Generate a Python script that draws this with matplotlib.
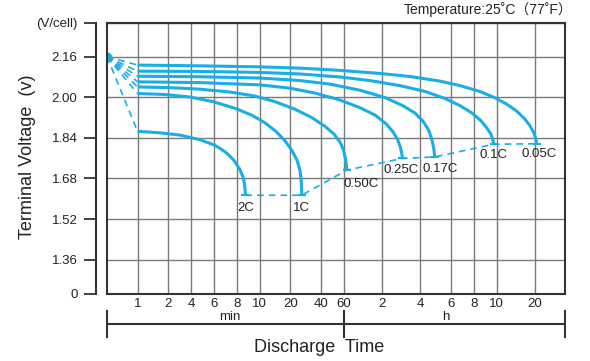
import numpy as np
import matplotlib
matplotlib.use("Agg")
import matplotlib.pyplot as plt

plt.rcParams['font.family'] = ['Liberation Sans', 'Noto Sans CJK SC', 'DejaVu Sans']

# time axis ticks (minutes) and labels
tick_t = [1, 2, 4, 6, 8, 10, 20, 40, 60, 120, 240, 360, 480, 600, 1200]
tick_lbl = ['1', '2', '4', '6', '8', '10', '20', '40', '60', '2', '4', '6', '8', '10', '20']

# voltage axis ticks
volt_ticks = [0, 1.36, 1.52, 1.68, 1.84, 2.00, 2.16]
volt_lbl = ['0', '1.36', '1.52', '1.68', '1.84', '2.00', '2.16']

# rest point before discharge
rest_t, rest_v = 0.5, 2.16

# discharge curves: time in minutes, volts per cell
rates = ['2C', '1C', '0.50C', '0.25C', '0.17C', '0.1C', '0.05C']

t_2c = [1, 1.664, 2.87, 4.68, 6.08, 6.97, 7.71, 8.23, 8.52, 8.64, 8.70]
v_2c = [1.866, 1.860, 1.851, 1.833, 1.811, 1.783, 1.752, 1.716, 1.683, 1.652, 1.614]

t_1c = [1, 1.864, 3.88, 5.89, 7.80, 9.23, 11.2, 14.4, 17.7, 20.7, 23.3, 24.9, 25.6, 25.8, 25.9]
v_1c = [2.015, 2.011, 2.001, 1.983, 1.957, 1.930, 1.900, 1.866, 1.829, 1.791, 1.752, 1.712, 1.673, 1.641, 1.614]

t_05c = [1, 2.12, 4.68, 7.30, 9.52, 14.08, 22.2, 32.6, 42.9, 50.5, 56.2, 59.7, 61.9, 63.0, 63.3]
v_05c = [2.041, 2.038, 2.032, 2.021, 2.005, 1.983, 1.953, 1.920, 1.886, 1.855, 1.823, 1.792, 1.756, 1.732, 1.713]

t_025c = [1, 4.68, 10, 19.8, 34.9, 56.2, 80.5, 105.7, 129.0, 146.6, 158.8, 167.6, 172.4, 173.3]
v_025c = [2.061, 2.058, 2.049, 2.036, 2.017, 1.989, 1.959, 1.930, 1.896, 1.864, 1.835, 1.803, 1.775, 1.759]

t_017c = [1, 4.68, 10, 24.86, 46.9, 80.5, 126.7, 175.3, 218.3, 249.0, 268.9, 281.0, 288.1, 291.0]
v_017c = [2.083, 2.081, 2.076, 2.066, 2.052, 2.028, 1.999, 1.967, 1.938, 1.906, 1.870, 1.831, 1.795, 1.765]

t_01c = [1, 4.68, 10, 24.86, 56.2, 96.5, 166.2, 256, 334.6, 404.7, 470.5, 515, 545, 568, 578, 584]
v_01c = [2.103, 2.102, 2.098, 2.092, 2.080, 2.066, 2.046, 2.023, 1.995, 1.967, 1.938, 1.908, 1.880, 1.855, 1.835, 1.815]

t_005c = [1, 4.68, 10, 24.86, 56.2, 115.8, 199.4, 311, 404.7, 510, 588, 722, 868, 1004, 1099, 1183, 1226, 1242]
v_005c = [2.127, 2.124, 2.120, 2.115, 2.106, 2.094, 2.082, 2.064, 2.046, 2.023, 1.999, 1.973, 1.945, 1.914, 1.888, 1.859, 1.835, 1.817]

curves_t = [t_2c, t_1c, t_05c, t_025c, t_017c, t_01c, t_005c]
curves_v = [v_2c, v_1c, v_05c, v_025c, v_017c, v_01c, v_005c]

# label offsets from curve end (points)
lbl_dx = [0, 0, 10, -1, 4, 0, 2]
lbl_dy = [-9, -9, -10, -8, -9, -7.5, -7.5]

blue = '#19aee6'
dark = '#333333'

# uneven time axis, as on the printed chart
edge_t = [0.5] + tick_t + [2100]
edge_u = [0, 4, 8, 11, 14, 17, 20, 24, 28, 31, 36, 41, 45, 48, 51, 56, 60]
log_t = np.log(edge_t)


def fwd_x(t):
    t = np.clip(np.asarray(t, float), 1e-6, None)
    return np.interp(np.log(t), log_t, edge_u)


def inv_x(u):
    return np.exp(np.interp(u, edge_u, log_t))


# broken voltage axis between 0 and 1.36
y_real = [0, 1.36, 3.0]
y_draw = [1.226, 1.36, 3.0]


def fwd_y(v):
    return np.interp(v, y_real, y_draw)


def inv_y(u):
    return np.interp(u, y_draw, y_real)


fig = plt.figure(figsize=(5.9, 3.61), dpi=100)
ax = fig.add_axes([107 / 590, 1 - 293.7 / 361, 458.3 / 590, 271 / 361])
ax.set_xscale('function', functions=(fwd_x, inv_x))
ax.set_yscale('function', functions=(fwd_y, inv_y))

for t, v in zip(curves_t, curves_v):
    ax.plot(t, v, color=blue, lw=2.2, solid_capstyle='butt',
            solid_joinstyle='round', zorder=4)
    ax.plot([rest_t, t[0]], [rest_v, v[0]], color=blue, lw=1.2,
            dashes=(4, 3), zorder=3)
    ax.plot([t[-1]], [v[-1]], marker='_', ms=6, mew=1.5, color=blue, zorder=4)

ends_t = [t[-1] for t in curves_t]
ends_v = [v[-1] for v in curves_v]
ax.plot(ends_t, ends_v, color=blue, lw=1.2, dashes=(4, 3), zorder=3)
ax.plot([rest_t], [rest_v], marker='o', ms=6, color=blue, zorder=5)

for i, r in enumerate(rates):
    ax.annotate(r, (ends_t[i], ends_v[i]), xytext=(lbl_dx[i], lbl_dy[i]),
                textcoords='offset points', ha='center', va='center',
                fontsize=9.5, color='#222222')

ax.set_xlim(0.5, 2100)
ax.set_ylim(0, 2.294)
ax.set_xticks(tick_t, tick_lbl)
ax.set_yticks(volt_ticks + [2.294], volt_lbl + ['(V/cell)'])
ax.minorticks_off()
ax.grid(True, color='#7a7a7a', lw=1.0)
ax.set_axisbelow(True)

ax.tick_params(axis='x', length=0, pad=3, labelsize=9.5, labelcolor='#222222')
ax.tick_params(axis='y', direction='out', length=8.6, width=1.3, pad=4.5,
               labelsize=9.5, color=dark, labelcolor='#222222')

for s in ['top', 'right', 'bottom', 'left']:
    ax.spines[s].set_color(dark)
    ax.spines[s].set_linewidth(1.5)
ax.spines['left'].set_position(('outward', 8.1))
ax.plot([0, 0], [0, 1], transform=ax.transAxes, color=dark, lw=1.5,
        clip_on=False, zorder=6)

# min / h bracket under the axis
tr = ax.get_xaxis_transform()
ax.plot([0.5, 2100], [-0.112, -0.112], transform=tr, color=dark, lw=1.5, clip_on=False)
for x in [0.5, 60, 2100]:
    ax.plot([x, x], [-0.063, -0.159], transform=tr, color=dark, lw=1.5, clip_on=False)
ax.text(0.267, -0.085, 'min', transform=ax.transAxes, ha='center', va='center',
        fontsize=9.5, color='#222222')
ax.text(0.740, -0.085, 'h', transform=ax.transAxes, ha='center', va='center',
        fontsize=9.5, color='#222222')

fig.text(319 / 590, 1 - 347 / 361, 'Discharge  Time', ha='center', va='center',
         fontsize=13, color='#222222')
fig.text(28 / 590, 1 - 157 / 361, 'Terminal Voltage  (v)', rotation=90,
         ha='center', va='center', fontsize=13, color='#222222')
fig.text(572 / 590, 1 - 10 / 361, 'Temperature:25˚C（77˚F）', ha='right',
         va='center', fontsize=10, color='#222222')

fig.savefig('out.png', dpi=100)
